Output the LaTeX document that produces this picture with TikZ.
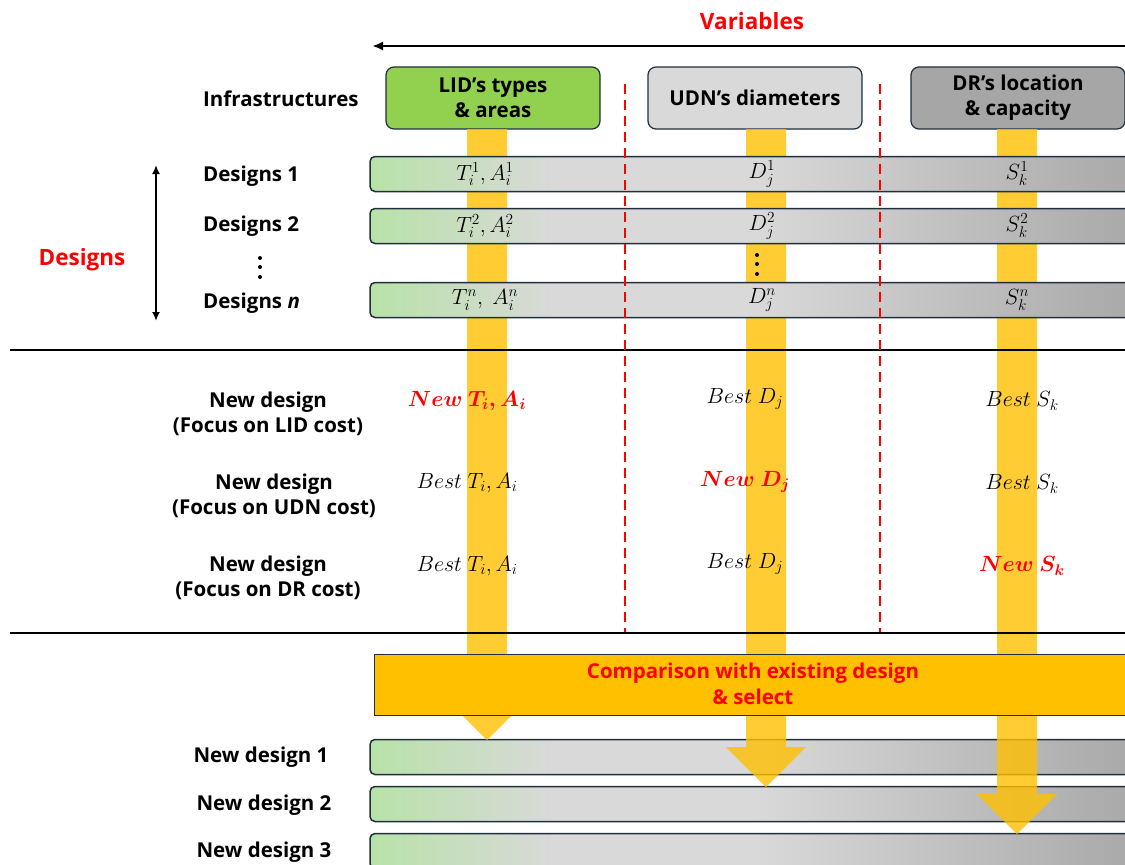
\RequirePackage{fix-cm}
\documentclass[tikz,border=0pt]{standalone}
\usepackage{amsmath}
\usepackage{fontspec}
\setmainfont{Open Sans}
\usetikzlibrary{arrows.meta}
\definecolor{border}{HTML}{1F2F3D}
\definecolor{hgreen}{HTML}{92D050}
\definecolor{hlight}{HTML}{D9D9D9}
\definecolor{hdark}{HTML}{A6A6A6}
\definecolor{rowg}{HTML}{B8E2A8}
\definecolor{rowl}{HTML}{D9D9D9}
\definecolor{rowd}{HTML}{A8A8A8}
\definecolor{barc}{HTML}{FFC000}
\definecolor{cmpc}{HTML}{FFC000}
\definecolor{redc}{HTML}{FF0000}
\pgfdeclarehorizontalshading{rowshade}{100bp}{color(0bp)=(rowg); color(25bp)=(rowg); color(37bp)=(rowl); color(50bp)=(rowl); color(75bp)=(rowd); color(100bp)=(rowd)}
\begin{document}
\begin{tikzpicture}[x=1pt,y=-1pt,
  lbl/.style={align=center, inner sep=0pt, font=\fontsize{20.5}{25.5}\selectfont\bfseries},
  ttl/.style={inner sep=0pt, text=redc, font=\fontsize{22.5}{26}\selectfont\bfseries},
  hdr/.style={draw=border, line width=1.2pt, rounded corners=8pt, minimum width=214pt, minimum height=62pt, align=center, inner sep=0pt, font=\fontsize{20.5}{25}\selectfont\bfseries},
  rowbox/.style={draw=border, line width=1.5pt, rounded corners=5pt, shade, shading=rowshade, minimum width=770pt, minimum height=35pt, inner sep=0pt},
  mth/.style={inner sep=0pt, font=\fontsize{22}{24}\selectfont},
  bar/.style={fill=barc, fill opacity=0.8},
  sepline/.style={line width=1.8pt, black},
  rdash/.style={draw=redc, line width=2.4pt, dash pattern=on 10pt off 6pt},
  dotmark/.style={circle, fill=black, inner sep=0pt, minimum size=4pt}
]
\clip (0,0) rectangle (1125,865);
\fill[white] (0,0) rectangle (1125,865);

% bottom rows (under arrows)
\node[rowbox] (nd1) at (755,757) {};
\node[rowbox] (nd2) at (755,804) {};
\node[rowbox] (nd3) at (755,851) {};

% header boxes
\node[hdr, fill=hgreen] (lid) at (493,98) {LID’s types\\\& areas};
\node[hdr, fill=hlight] (udn) at (755,98) {UDN’s diameters};
\node[hdr, fill=hdark] (dr) at (1018,98) {DR’s location\\\& capacity};

% yellow arrows
\coordinate (tipL) at (487,740);
\coordinate (tipU) at (766,787);
\coordinate (tipD) at (1017,834);
\fill[bar] (467,129) -- (467,700) -- (447,700) -- (tipL) -- (527,700) -- (507,700) -- (507,129) -- cycle;
\fill[bar] (746,129) -- (746,747) -- (726,747) -- (tipU) -- (806,747) -- (786,747) -- (786,129) -- cycle;
\fill[bar] (997,129) -- (997,794) -- (977,794) -- (tipD) -- (1057,794) -- (1037,794) -- (1037,129) -- cycle;

% top rows
\node[rowbox] (d1) at (755,174) {};
\node[rowbox] (d2) at (755,226) {};
\node[rowbox] (dn) at (755,300) {};

\node[mth] at (485,174) {$T_i^1, A_i^1$};
\node[mth] at (485,226) {$T_i^2, A_i^2$};
\node[mth] at (485,300) {$T_i^n,\ A_i^n$};
\node[mth] at (762,174) {$D_j^1$};
\node[mth] at (762,226) {$D_j^2$};
\node[mth] at (762,300) {$D_j^n$};
\node[mth] at (1017,174) {$S_k^1$};
\node[mth] at (1017,226) {$S_k^2$};
\node[mth] at (1017,300) {$S_k^n$};

\node[dotmark] (dd1) at (757,255) {};
\node[dotmark] (dd2) at (757,264) {};
\node[dotmark] (dd3) at (757,274) {};

% comparison box
\node[draw=border, line width=0.8pt, fill=cmpc, minimum width=766pt, minimum height=61pt, inner sep=0pt] (cmp) at (757,684.5) {};
\node[lbl, text=redc] (cmptxt) at (753,684) {Comparison with existing design\\\& select};

% separators
\coordinate (s1a) at (10,350); \coordinate (s1b) at (1125,350);
\coordinate (s2a) at (10,633); \coordinate (s2b) at (1125,633);
\draw[sepline] (s1a) -- (s1b);
\draw[sepline] (s2a) -- (s2b);

% red dashed lines
\coordinate (da1) at (625,84); \coordinate (db1) at (625,632);
\coordinate (da2) at (880,84); \coordinate (db2) at (880,632);
\draw[rdash] (da1) -- (db1);
\draw[rdash] (da2) -- (db2);

% variables
\node[ttl] (vars) at (752,21) {Variables};
\coordinate (varR) at (1130,46);
\coordinate (varL) at (372,46);
\draw[line width=2.2pt, -{Latex[length=11pt,width=9pt]}] (varR) -- (varL);

% left labels
\node[lbl, anchor=west] (infra) at (203,99) {Infrastructures};
\node[lbl, anchor=west] (l1) at (203,176) {Designs 1};
\node[lbl, anchor=west] (l2) at (203,226) {Designs 2};
\node[lbl, anchor=west] (ln) at (203,303) {Designs \textit{n}};
\node[dotmark] (ld1) at (260,258) {};
\node[dotmark] (ld2) at (260,267) {};
\node[dotmark] (ld3) at (260,277) {};
\node[ttl] (designs) at (82,260) {Designs};
\coordinate (vaT) at (156,165);
\coordinate (vaB) at (156,321);
\draw[line width=2pt, {Latex[length=9pt,width=8pt]}-{Latex[length=9pt,width=8pt]}] (vaT) -- (vaB);

% middle section
\node[lbl] (f1) at (268,414) {New design\\(Focus on LID cost)};
\node[lbl] (f2) at (274,496) {New design\\(Focus on UDN cost)};
\node[lbl] (f3) at (268,578) {New design\\(Focus on DR cost)};

\node[mth, text=redc] at (467,401) {$\boldsymbol{New\ T_i, A_i}$};
\node[mth] at (745,399) {$Best\ D_j$};
\node[mth] at (1022,401) {$Best\ S_k$};
\node[mth] at (467,483) {$Best\ T_i, A_i$};
\node[mth, text=redc] at (745,482) {$\boldsymbol{New\ D_j}$};
\node[mth] at (1022,484) {$Best\ S_k$};
\node[mth] at (467,566) {$Best\ T_i, A_i$};
\node[mth] at (745,564) {$Best\ D_j$};
\node[mth, text=redc] at (1022,566) {$\boldsymbol{New\ S_k}$};

% bottom labels
\node[lbl] (n1) at (261,757) {New design 1};
\node[lbl] (n2) at (264,805) {New design 2};
\node[lbl] (n3) at (264,852) {New design 3};
\end{tikzpicture}
\end{document}
